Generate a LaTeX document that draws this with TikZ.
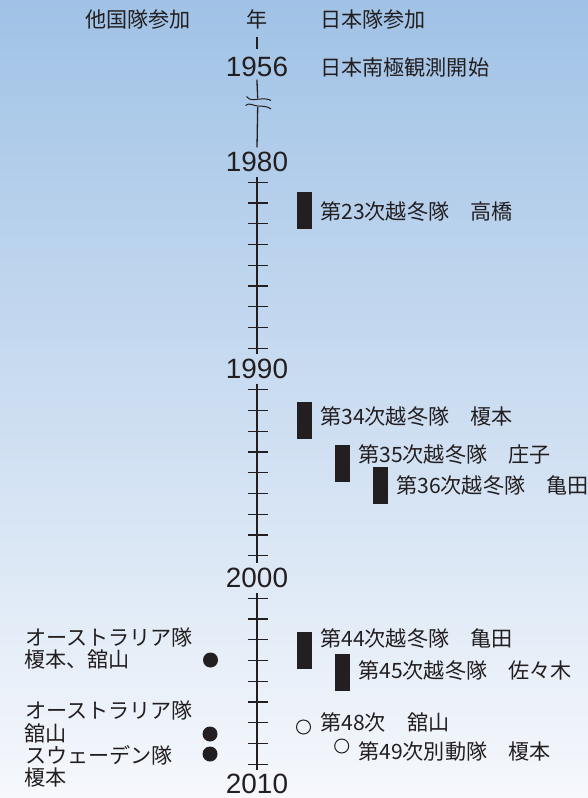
\documentclass[tikz,border=0pt]{standalone}
\usepackage{fontspec}
\setmainfont{Noto Sans CJK JP}
\newfontfamily\yearfont{Liberation Sans}
\definecolor{ink}{RGB}{35,31,32}
\definecolor{bgtop}{RGB}{160,194,230}
\definecolor{bgmid}{RGB}{208,223,242}
\definecolor{bgbot}{RGB}{246,248,252}
\begin{document}
\begin{tikzpicture}[x=1bp,y=-1bp,
  jp/.style={font=\fontsize{21.2}{23}\selectfont, text=ink, inner sep=0pt, anchor=west},
  hd/.style={font=\fontsize{21.2}{23}\selectfont, text=ink, inner sep=0pt},
  yr/.style={font=\yearfont\fontsize{28}{30}\selectfont, text=ink, inner sep=0pt, minimum height=29bp},
  axis/.style={draw=ink, line width=1.3bp},
  tick/.style={draw=ink, line width=1.2bp},
  bar/.style={fill=ink, draw=none},
  dot/.style={circle, fill=ink, inner sep=0pt, minimum size=15bp},
  ring/.style={circle, draw=ink, line width=1bp, inner sep=0pt, minimum size=14bp}]
\useasboundingbox (0,0) rectangle (588,798);
\shade[top color=bgtop, middle color=bgmid, bottom color=bgbot] (0,0) rectangle (588,798);

% headers
\node[jp] (hother) at (85,20) {他国隊参加};
\node[hd] (nen) at (257,19) {年};
\node[jp] (hjapan) at (320,20) {日本隊参加};
\node[jp] (start) at (320,67) {日本南極観測開始};

% year labels
\node[yr] (y1956) at (257,67) {1956};
\node[yr] (y1980) at (257,162) {1980};
\node[yr] (y1990) at (257,369) {1990};
\node[yr] (y2000) at (257,578) {2000};
\node[yr] (y2010) at (257,783.5) {2010};

% axis
\draw[axis, shorten <=8bp, shorten >=3bp] (nen.south) -- (y1956.north);
\coordinate (brkA) at (257.7,98.5);
\coordinate (brkB) at (257.7,107);
\draw[axis, shorten <=-2bp] (y1956.south) -- (brkA);
\draw[axis] (brkB) -- (y1980.north);
\draw[draw=ink, line width=1bp] (246.5,96.5) .. controls (250,101) and (254,99.5) .. (257.7,99.2) .. controls (263,98.8) and (268,98.5) .. (271,100.5);
\draw[draw=ink, line width=1bp] (245.5,105.5) .. controls (249,102) and (254,106) .. (257.7,106) .. controls (263,106) and (268,106.5) .. (271,109);
\draw[axis] (y1980.south) -- (y1990.north);
\draw[axis] (y1990.south) -- (y2000.north);
\draw[axis, shorten >=-1bp] (y2000.south) -- (y2010.north);

% ticks
\foreach \k in {1,...,9}{
  \draw[tick] (247.7,161.5+20.75*\k) -- (267.7,161.5+20.75*\k);
  \draw[tick] (247.7,369+20.75*\k) -- (267.7,369+20.75*\k);
  \draw[tick] (247.7,577.5+20.75*\k) -- (267.7,577.5+20.75*\k);
}

% Japanese expeditions
\fill[bar] (297,192) rectangle (312,229);
\node[jp] (t23) at (320,212) {第23次越冬隊　高橋};
\fill[bar] (297,402) rectangle (312,439);
\node[jp] (t34) at (320,417) {第34次越冬隊　榎本};
\fill[bar] (335,445) rectangle (350,482);
\node[jp] (t35) at (358,455) {第35次越冬隊　庄子};
\fill[bar] (373,467) rectangle (388,504);
\node[jp] (t36) at (396,486) {第36次越冬隊　亀田};
\fill[bar] (297,632) rectangle (312,669);
\node[jp] (t44) at (320,639) {第44次越冬隊　亀田};
\fill[bar] (335,654) rectangle (350,691);
\node[jp] (t45) at (358,671) {第45次越冬隊　佐々木};
\node[ring] (c48) at (303.5,727) {};
\node[jp] (t48) at (320,722) {第48次　舘山};
\node[ring] (c49) at (341.7,746) {};
\node[jp] (t49) at (358,751) {第49次別動隊　榎本};

% other countries
\node[jp] (o1a) at (25,637) {オーストラリア隊};
\node[jp] (o1b) at (24,659) {榎本、舘山};
\node[dot] (d1) at (210.5,660) {};
\node[jp] (o2a) at (25,710) {オーストラリア隊};
\node[jp] (o2b) at (24,733) {舘山};
\node[dot] (d2) at (210,734) {};
\node[jp] (o3a) at (25,755) {スウェーデン隊};
\node[dot] (d3) at (210,754) {};
\node[jp] (o3b) at (24,777) {榎本};
\end{tikzpicture}
\end{document}
